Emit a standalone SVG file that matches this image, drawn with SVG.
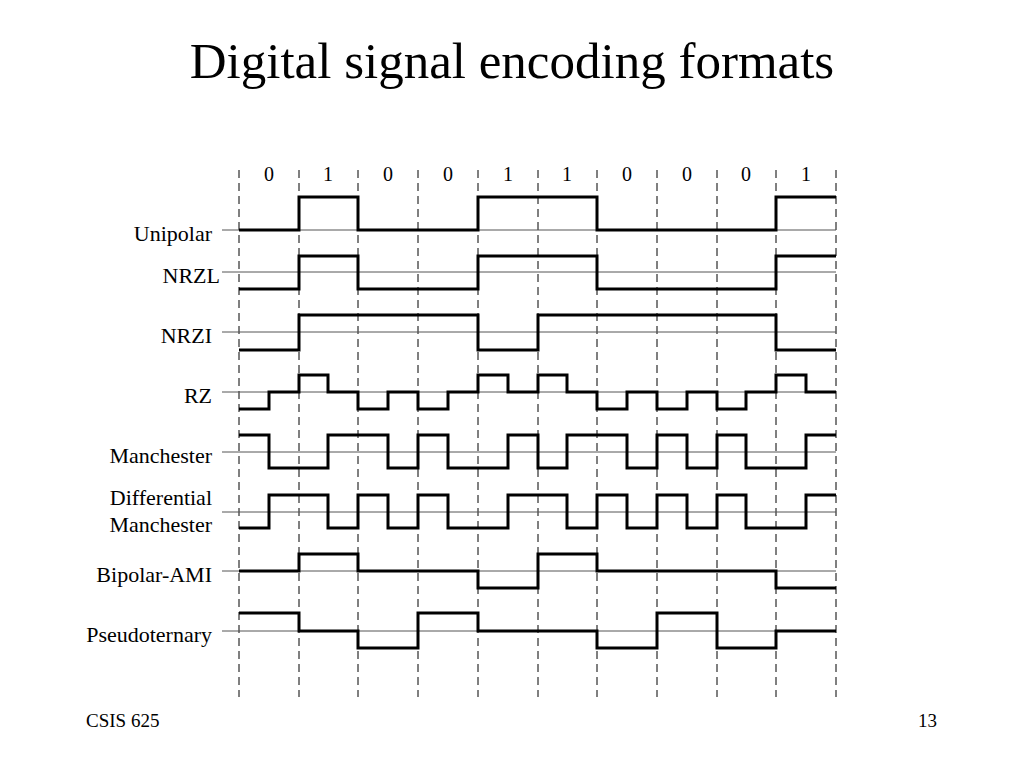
<svg xmlns="http://www.w3.org/2000/svg" width="1024" height="768" viewBox="0 0 1024 768">
<style>
text{font-family:"Liberation Serif","Times New Roman",serif;fill:#000}
.lbl{font-size:22px;text-anchor:end}
.bit{font-size:20px;text-anchor:middle}
.grid{stroke:#000;stroke-width:1;stroke-dasharray:8,5}
.base{stroke:#555;stroke-width:1}
.sig{fill:none;stroke:#000;stroke-width:3;stroke-linejoin:miter}
</style>
<rect width="1024" height="768" fill="#fff"/>
<text x="512" y="78" font-size="51" text-anchor="middle">Digital signal encoding formats</text>
<g id="grid">
<path class="grid" d="M239,170V697M299,170V697M358,170V697M418,170V697M478,170V697M538,170V697M597,170V697M657,170V697M717,170V697M776,170V697M836,170V697"/>
</g>
<g id="bits">
<text class="bit" x="269" y="181">0</text><text class="bit" x="328" y="181">1</text><text class="bit" x="388" y="181">0</text><text class="bit" x="448" y="181">0</text><text class="bit" x="508" y="181">1</text><text class="bit" x="567" y="181">1</text><text class="bit" x="627" y="181">0</text><text class="bit" x="687" y="181">0</text><text class="bit" x="746" y="181">0</text><text class="bit" x="806" y="181">1</text>
</g>
<g id="baselines">
<path class="base" d="M222,230H836M222,272H836M222,332H836M222,392H836M222,452H836M222,512H836M222,571H836M222,631H836"/>
</g>
<g id="unipolar"><text class="lbl" x="212" y="241">Unipolar</text>
<path class="sig" d="M239,230H299V197H358V230H478V197H597V230H776V197H836"/></g>
<g id="nrzl"><text class="lbl" x="220" y="283">NRZL</text>
<path class="sig" d="M239,289H299V256H358V289H478V256H597V289H776V256H836"/></g>
<g id="nrzi"><text class="lbl" x="212" y="343">NRZI</text>
<path class="sig" d="M239,350H299V315H478V350H538V315H776V350H836"/></g>
<g id="rz"><text class="lbl" x="212" y="403">RZ</text>
<path class="sig" d="M239,409H269V392H299V375H328V392H358V409H388V392H418V409H448V392H478V375H508V392H538V375H567V392H597V409H627V392H657V409H687V392H717V409H746V392H776V375H806V392H836"/></g>
<g id="manchester"><text class="lbl" x="212" y="463">Manchester</text>
<path class="sig" d="M239,435H269V468H328V435H388V468H418V435H448V468H508V435H538V468H567V435H627V468H657V435H687V468H717V435H746V468H806V435H836"/></g>
<g id="diffmanchester"><text class="lbl" x="212" y="505">Differential</text><text class="lbl" x="212" y="532">Manchester</text>
<path class="sig" d="M239,528H269V495H328V528H358V495H388V528H418V495H448V528H508V495H567V528H597V495H627V528H657V495H687V528H717V495H746V528H806V495H836"/></g>
<g id="ami"><text class="lbl" x="212" y="582">Bipolar-AMI</text>
<path class="sig" d="M239,571H299V554H358V571H478V588H538V554H597V571H776V588H836"/></g>
<g id="pseudoternary"><text class="lbl" x="212" y="642">Pseudoternary</text>
<path class="sig" d="M239,613H299V631H358V648H418V613H478V631H597V648H657V613H717V648H776V631H836"/></g>
<text x="86" y="727" font-size="19">CSIS 625</text>
<text x="937" y="727" font-size="19" text-anchor="end">13</text>
</svg>
